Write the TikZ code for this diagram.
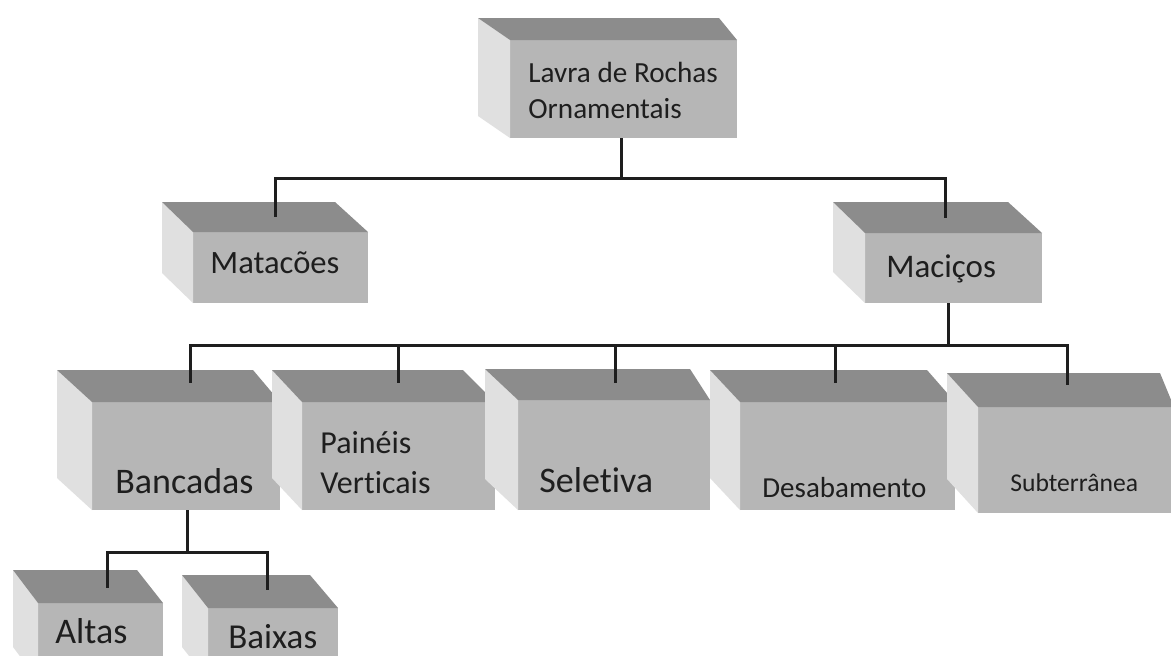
\documentclass[tikz,border=0pt]{standalone}
\usepackage{fontspec}
\setmainfont{Carlito}[Ligatures=NoCommon]
\usetikzlibrary{fit}
\definecolor{cimo}{HTML}{8C8C8C}
\definecolor{frente}{HTML}{B6B6B6}
\definecolor{lado}{HTML}{E0E0E0}
\definecolor{traco}{HTML}{1E1E1E}
\tikzset{face/.style={fill=frente, inner sep=0pt, outer sep=0pt},
  topo/.style={fill=cimo},
  ilharga/.style={fill=lado},
  rotulo/.style={text=traco, inner sep=0pt, anchor=base west},
  liga/.style={draw=traco, line width=1.5pt}}
\begin{document}
\begin{tikzpicture}[x=0.5pt, y=-0.5pt]
   \useasboundingbox (0,0) rectangle (1171,655);
   \fill[white] (0,0) rectangle (1171,655);
   \clip (0,0) rectangle (1171,655);
   \foreach \n/\xa/\ya/\xb/\yb/\l/\r/\d in {
      lavra/510/40/737/138/-32/-18/-22,
      matac/193/232/368/303/-31/-33/-30,
      maci/865/233/1042/303/-32/-34/-31,
      banc/92/402/280/510/-35/-27/-32,
      pain/302/402/495/510/-30/-32/-32,
      selet/518/400/710/510/-33/-20/-31,
      desab/740/402/955/510/-30/-28/-32,
      subt/978/407/1174/513/-31/-14/-34,
      altas/38/603/163/680/-25/-26/-33,
      baixas/208/608/338/680/-26/-28/-33}
   {
      \node[face, fit={(\xa,\ya) (\xb,\yb)}] (\n) {};
      \fill[ilharga] (\n.north west) -- ++(\l,\d) -- ([shift={(\l,\d)}]\n.south west) -- (\n.south west) -- cycle;
      \fill[topo] (\n.north west) -- ++(\l,\d) -- ([shift={(\r,\d)}]\n.north east) -- (\n.north east) -- cycle;
   }
   \coordinate (lavra-bus) at (621,178);
   \coordinate (matac-in) at (275,217);
   \coordinate (maci-in) at (945,218);
   \coordinate (maci-bus) at (948,345);
   \coordinate (banc-in) at (190,383);
   \coordinate (pain-in) at (398,383);
   \coordinate (selet-in) at (615,383);
   \coordinate (desab-in) at (835,383);
   \coordinate (subt-in) at (1067,385);
   \coordinate (banc-bus) at (187,552);
   \coordinate (altas-in) at (107,588);
   \coordinate (baixas-in) at (267,590);
   \draw[liga] (lavra-bus |- lavra.south) -- (lavra-bus);
   \draw[liga] (lavra-bus) -| (matac-in);
   \draw[liga] (lavra-bus) -| (maci-in);
   \draw[liga] (maci-bus |- maci.south) -- (maci-bus);
   \foreach \m in {banc,pain,selet,desab,subt}
      \draw[liga] (maci-bus) -| (\m-in);
   \draw[liga] (banc-bus |- banc.south) -- (banc-bus);
   \foreach \m in {altas,baixas}
      \draw[liga] (banc-bus) -| (\m-in);
   \node[rotulo, font=\fontsize{14.6}{18}\selectfont, align=left] (tlavra) at (528,118) {Lavra de Rochas\\Ornamentais};
   \node[rotulo, font=\fontsize{16.3}{20}\selectfont] (tmatac) at (210,273) {Matacões};
   \node[rotulo, font=\fontsize{16.5}{20}\selectfont] (tmaci) at (886,277) {Maciços};
   \node[rotulo, font=\fontsize{18}{20}\selectfont] (tbanc) at (115,493) {Bancadas};
   \node[rotulo, font=\fontsize{16}{20}\selectfont, align=left] (tpain) at (320,493) {Painéis\\Verticais};
   \node[rotulo, font=\fontsize{18}{20}\selectfont] (tselet) at (539,492) {Seletiva};
   \node[rotulo, font=\fontsize{14.5}{18}\selectfont] (tdesab) at (762,497) {Desabamento};
   \node[rotulo, font=\fontsize{12.8}{16}\selectfont] (tsubt) at (1010,491) {Subterrânea};
   \node[rotulo, font=\fontsize{18}{20}\selectfont] (taltas) at (55,643) {Altas};
   \node[rotulo, font=\fontsize{17.5}{20}\selectfont] (tbaixas) at (228,648) {Baixas};
\end{tikzpicture}
\end{document}
